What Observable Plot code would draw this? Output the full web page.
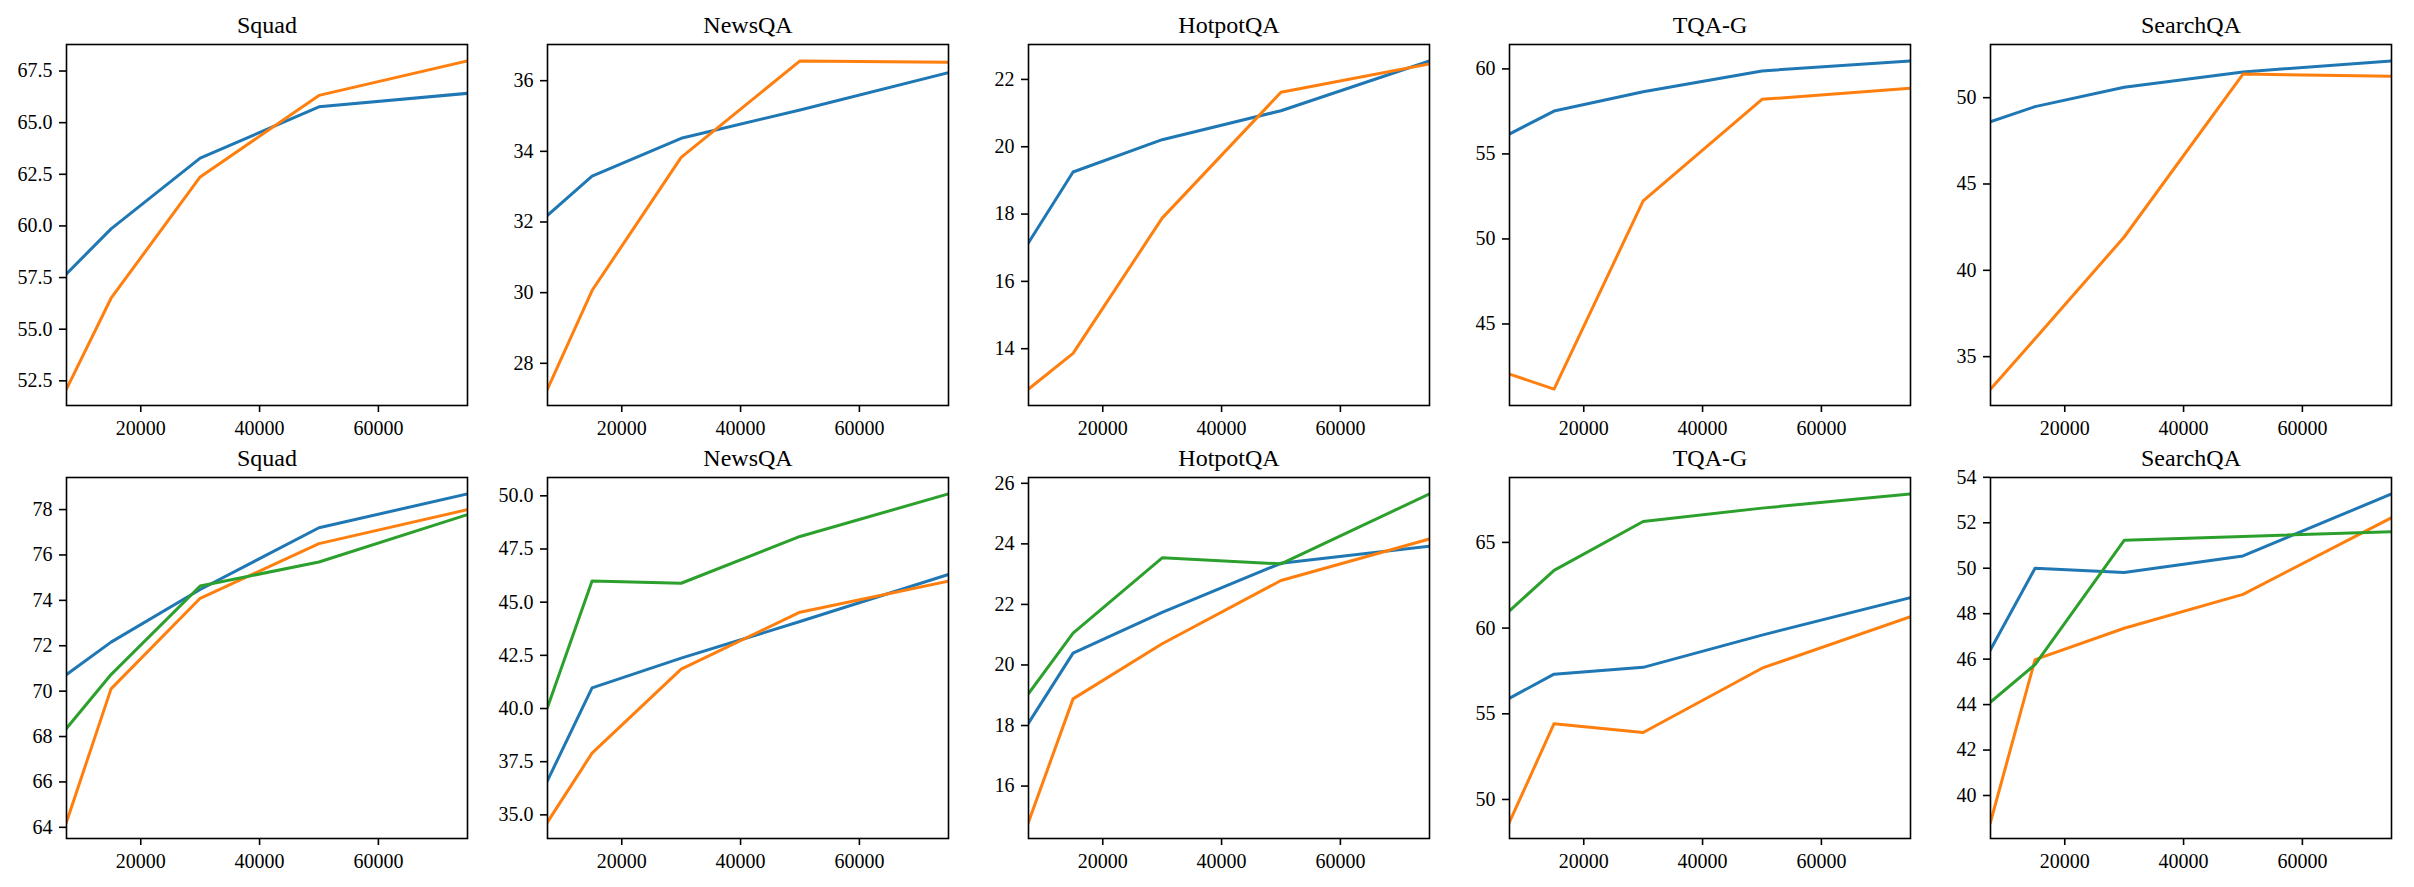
<!DOCTYPE html>
<html>
<head>
<meta charset="utf-8">
<script src="https://cdn.jsdelivr.net/npm/d3@7"></script>
<script src="https://cdn.jsdelivr.net/npm/@observablehq/plot@0.6"></script>
<style>
  html, body { margin: 0; padding: 0; background: #fff; }
  #grid { position: relative; width: 2414px; height: 887px; }
  #grid svg { position: absolute; overflow: visible; }
</style>
</head>
<body>
<div id="grid"></div>
<script>
// Training-set sizes on the x axis
const steps = [7500, 15000, 30000, 50000, 75000];
const xTicks = [20000, 40000, 60000];
const datasets = ["Squad", "NewsQA", "HotpotQA", "TQA-G", "SearchQA"];

// Top row: two series per dataset (order follows `datasets`)
const topBlue = [
  [57.68, 59.86, 63.28, 65.77, 66.42],
  [32.19, 33.30, 34.37, 35.17, 36.23],
  [17.15, 19.25, 20.21, 21.07, 22.55],
  [56.17, 57.52, 58.66, 59.88, 60.47],
  [48.61, 49.48, 50.60, 51.49, 52.13]
];
const topOrange = [
  [52.10, 56.50, 62.37, 66.32, 67.99],
  [27.27, 30.06, 33.83, 36.56, 36.52],
  [12.80, 13.86, 17.88, 21.62, 22.46],
  [42.05, 41.17, 52.24, 58.21, 58.86],
  [33.12, 36.03, 41.93, 51.37, 51.24]
];

// Bottom row: three series per dataset
const bottomBlue = [
  [70.73, 72.16, 74.48, 77.20, 78.69],
  [36.61, 40.97, 42.37, 44.09, 46.30],
  [18.08, 20.39, 21.74, 23.36, 23.92],
  [55.91, 57.31, 57.71, 59.59, 61.78],
  [46.42, 50.00, 49.81, 50.54, 53.27]
];
const bottomOrange = [
  [64.23, 70.10, 74.09, 76.50, 78.00],
  [34.66, 37.90, 41.85, 44.53, 45.99],
  [14.81, 18.88, 20.70, 22.79, 24.16],
  [48.68, 54.42, 53.91, 57.66, 60.66],
  [38.83, 45.98, 47.36, 48.85, 52.22]
];
const bottomGreen = [
  [68.36, 70.73, 74.63, 75.69, 77.78],
  [40.06, 45.99, 45.89, 48.09, 50.09],
  [19.05, 21.05, 23.54, 23.34, 25.65],
  [61.01, 63.37, 66.22, 67.00, 67.83],
  [44.11, 45.76, 51.23, 51.40, 51.61]
];

// Y tick labels per panel
const topYTicks = [
  [52.5, 55, 57.5, 60, 62.5, 65, 67.5],
  [28, 30, 32, 34, 36],
  [14, 16, 18, 20, 22],
  [45, 50, 55, 60],
  [35, 40, 45, 50]
];
const bottomYTicks = [
  [64, 66, 68, 70, 72, 74, 76, 78],
  [35, 37.5, 40, 42.5, 45, 47.5, 50],
  [16, 18, 20, 22, 24, 26],
  [50, 55, 60, 65],
  [40, 42, 44, 46, 48, 50, 52, 54]
];

const seriesKeys = ["s1", "s2", "s3"];
const seriesColors = ["#1f77b4", "#ff7f0e", "#2ca02c"];

const rows = [
  { series: [topBlue, topOrange], ticks: topYTicks },
  { series: [bottomBlue, bottomOrange, bottomGreen], ticks: bottomYTicks }
];

const grid = document.getElementById("grid");
const W = 481, H = 451, rowStep = 433;

rows.forEach((row, r) => {
  datasets.forEach((name, c) => {
    const data = [];
    row.series.forEach((s, k) => {
      s[c].forEach((v, i) => data.push({ step: steps[i], value: v, series: seriesKeys[k] }));
    });
    const [lo, hi] = d3.extent(data, d => d.value);
    const pad = 0.05 * (hi - lo);
    const ticks = row.ticks[c];
    const fmt = ticks.some(t => !Number.isInteger(t)) ? d3.format(".1f") : d3.format("d");

    const svg = Plot.plot({
      width: W,
      height: H,
      marginLeft: 66,
      marginRight: 14,
      marginTop: 44,
      marginBottom: 46,
      style: {
        fontFamily: "'Liberation Serif', 'Times New Roman', serif",
        fontSize: "20px",
        color: "#000",
        background: "transparent"
      },
      x: { domain: [steps[0], steps[steps.length - 1]], label: null },
      y: { domain: [lo - pad, hi + pad], label: null },
      color: { type: "ordinal", domain: seriesKeys, range: seriesColors },
      marks: [
        Plot.line(data, {
          x: "step", y: "value", z: "series", stroke: "series",
          strokeWidth: 3, strokeLinejoin: "round", strokeLinecap: "square", clip: "frame"
        }),
        Plot.frame({ stroke: "#000", strokeWidth: 1.6 }),
        Plot.axisX({
          ticks: xTicks, tickFormat: d3.format("d"), tickSize: 7, tickPadding: 8,
          strokeWidth: 1.6, fontSize: 20, label: null
        }),
        Plot.axisY({
          ticks, tickFormat: fmt, tickSize: 7, tickPadding: 7,
          strokeWidth: 1.6, fontSize: 20, label: null
        }),
        Plot.text([name], {
          frameAnchor: "top", dy: -12, lineAnchor: "bottom", fontSize: 24, fill: "#000"
        })
      ]
    });
    svg.style.left = (c * W) + "px";
    svg.style.top = (r * rowStep) + "px";
    grid.appendChild(svg);
  });
});
</script>
</body>
</html>
